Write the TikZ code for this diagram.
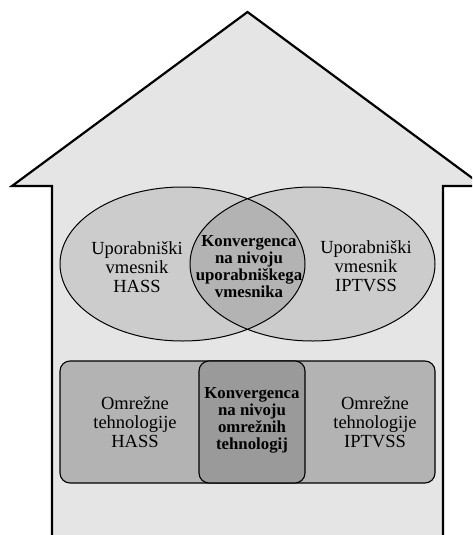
\documentclass[tikz,border=0pt]{standalone}
\usepackage{fontspec}
\setmainfont{Liberation Serif}
\usepackage{xcolor}
\usetikzlibrary{calc}
\definecolor{wallgray}{HTML}{E5E5E5}
\definecolor{ovalgray}{HTML}{CCCCCC}
\definecolor{lensgray}{HTML}{B3B3B3}
\definecolor{boxgray}{HTML}{B3B3B3}
\definecolor{convgray}{HTML}{9A9A9A}
\tikzset{
	house/.style={fill=wallgray,line width=2.2pt,line join=miter},%
	userellipse/.style={fill=ovalgray},%
	lens/.style={fill=lensgray},%
	outline/.style={draw=black,line width=1pt},%
	techbox/.style={fill=boxgray,draw=black,line width=1.1pt,rounded corners=10pt},%
	convbox/.style={fill=convgray,draw=black,line width=1.1pt,rounded corners=10pt},%
	plainlabel/.style={align=center,font=\fontsize{18.5}{18.8}\selectfont,inner sep=0pt},%
	boldlabel/.style={align=center,font=\fontsize{16.8}{17}\selectfont\bfseries,inner sep=0pt},%
}
\def\rx{122.5}
\def\ry{77}

\begin{document}
\begin{tikzpicture}[x=1pt,y=-1pt]
		\useasboundingbox (0,0) rectangle (472,535);
		\clip (0,0) rectangle (472,535);
		% house
		\draw[house] (52,540) -- (52,186) -- (12,186) -- (247.5,12) -- (483,186) -- (443,186) -- (443,540);
		% user interface ovals
		\fill[userellipse] (182.5,264) ellipse [x radius=\rx,y radius=\ry];
		\fill[userellipse] (312.5,264) ellipse [x radius=\rx,y radius=\ry];
		\begin{scope}
			\clip (182.5,264) ellipse [x radius=\rx,y radius=\ry];
			\fill[lens] (312.5,264) ellipse [x radius=\rx,y radius=\ry];
		\end{scope}
		\draw[outline] (182.5,264) ellipse [x radius=\rx,y radius=\ry]%
		(312.5,264) ellipse [x radius=\rx,y radius=\ry];
		% network technologies
		\draw[techbox] (60,361) rectangle (435,483);
		\draw[convbox] (199,361) rectangle (305,483);
		% labels
		\node[plainlabel] (uihass) at (137,267) {Uporabniški\\vmesnik\\HASS};
		\node[plainlabel] (uiiptv) at (366,266) {Uporabniški\\vmesnik\\IPTVSS};
		\node[boldlabel] (uiconv) at (249,267) {Konvergenca\\na nivoju\\uporabniškega\\vmesnika};
		\node[plainlabel] (nethass) at (135,422) {Omrežne\\tehnologije\\HASS};
		\node[plainlabel] (netiptv) at (375,422) {Omrežne\\tehnologije\\IPTVSS};
		\node[boldlabel] (netconv) at (252,420) {Konvergenca\\na nivoju\\omrežnih\\tehnologij};
	\end{tikzpicture}
\end{document}
